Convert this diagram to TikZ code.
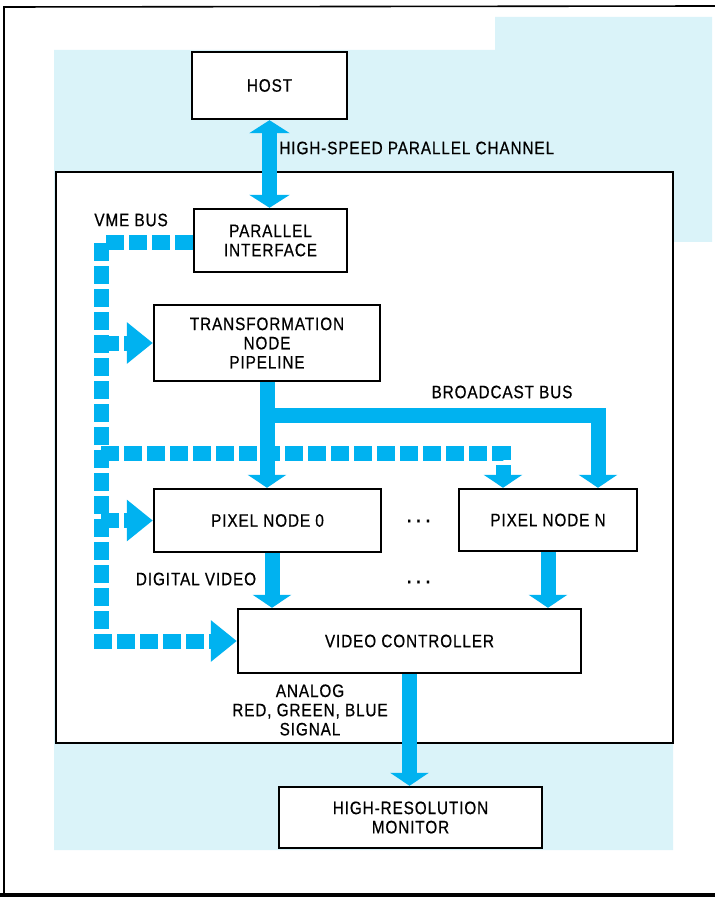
\documentclass[tikz,border=0pt]{standalone}
\usepackage{fontspec}
\setmainfont{Liberation Sans}[FakeStretch=0.85, LetterSpace=5, FakeBold=0.6]
\usepackage{tikz}
\usetikzlibrary{arrows.meta}

\definecolor{busblue}{RGB}{0,178,240}
\definecolor{paleblue}{RGB}{218,243,249}

\begin{document}
\begin{tikzpicture}[x=0.5pt, y=-0.5pt, font=\fontsize{9}{9.6}\selectfont,
  box/.style={draw, line width=1.2pt, fill=white, align=center, inner sep=0pt},
  lbl/.style={inner sep=0pt, align=center},
  bus/.style={busblue, line width=7.5pt, line join=miter},
  vmebus/.style={bus, dash pattern=on 9pt off 2.5pt},
  vtip/.style={-{Triangle[width=19pt,length=6.5pt]}},
  htip/.style={-{Triangle[width=20pt,length=13pt]}},
  dtip/.style={{Triangle[width=20pt,length=6.5pt]}-{Triangle[width=20pt,length=6.5pt]}}]
  % pixel coordinates of the 715 x 898 page, y pointing down
  \useasboundingbox (0,0) rectangle (715,898);
  \fill[paleblue] (54,50) -- (495,50) -- (495,17) -- (712,17) -- (712,242)
    -- (673,242) -- (673,850) -- (54,850) -- cycle;
  \draw[fill=white, line width=0.8pt] (56,172) rectangle (673,743);
  \draw[line width=0.8pt] (4,893) -- (4,7) -- (715,6);
  \draw[line width=2pt] (0,895) -- (715,895);

  \node[box, minimum width=77.5pt, minimum height=33.5pt] (host) at (269.5,85.5) {HOST};
  \node[box, minimum width=76.5pt, minimum height=31.5pt] (parif) at (270.5,240.5) {PARALLEL\\INTERFACE};
  \node[box, minimum width=113pt, minimum height=38pt] (trans) at (267,343) {TRANSFORMATION\\NODE\\PIPELINE};
  \node[box, minimum width=113.5pt, minimum height=31.5pt] (pixzero) at (267.5,520.5) {PIXEL NODE 0};
  \node[box, minimum width=89pt, minimum height=31pt] (pixn) at (548,520) {PIXEL NODE N};
  \node[box, minimum width=171.5pt, minimum height=32pt] (video) at (409.5,641) {VIDEO CONTROLLER};
  \node[box, minimum width=131.5pt, minimum height=30.5pt] (monitor) at (410.5,817.5) {HIGH-RESOLUTION\\MONITOR};

  % solid buses
  \coordinate (bcast) at (598,415);
  \draw[bus, dtip] (host.south) -- (host.south |- parif.north);
  \draw[bus, vtip] (trans.south) -- (trans.south |- pixzero.north);
  \draw[bus, vtip] (trans.south |- bcast) -- (bcast) -- (bcast |- pixn.north);
  \draw[bus, vtip] ([xshift=2.25pt]pixzero.south) -- ([xshift=2.25pt]pixzero.south |- video.north);
  \draw[bus, vtip] (pixn.south) -- (pixn.south |- video.north);
  \draw[bus, vtip] (video.south) -- (video.south |- monitor.north);

  % VME bus
  \coordinate (vme) at (101,243);
  \coordinate (vmen) at (503,453);
  \draw[vmebus, htip] (parif.west |- vme) -- (vme) -- (vme |- video.west) -- (video.west);
  \foreach \n in {trans, pixzero}
    { \draw[vmebus, htip] (vme |- \n.west) -- (\n.west); }
  \draw[vmebus, vtip] (vme |- vmen) -- (vmen) -- (vmen |- pixn.north);

  \node[lbl, anchor=west] (chanlabel) at (279,148) {HIGH-SPEED PARALLEL CHANNEL};
  \node[lbl, anchor=west] (vmelabel) at (94,220) {VME BUS};
  \node[lbl] (bcastlabel) at (502,392) {BROADCAST BUS};
  \node[lbl] (dvlabel) at (196,579) {DIGITAL VIDEO};
  \node[lbl] (analoglabel) at (310,710) {ANALOG\\RED, GREEN, BLUE\\SIGNAL};
  \node[lbl] (dotsa) at (419,521) {\textbf{.\ .\ .}};
  \node[lbl] (dotsb) at (419,582) {\textbf{.\ .\ .}};
\end{tikzpicture}
\end{document}
